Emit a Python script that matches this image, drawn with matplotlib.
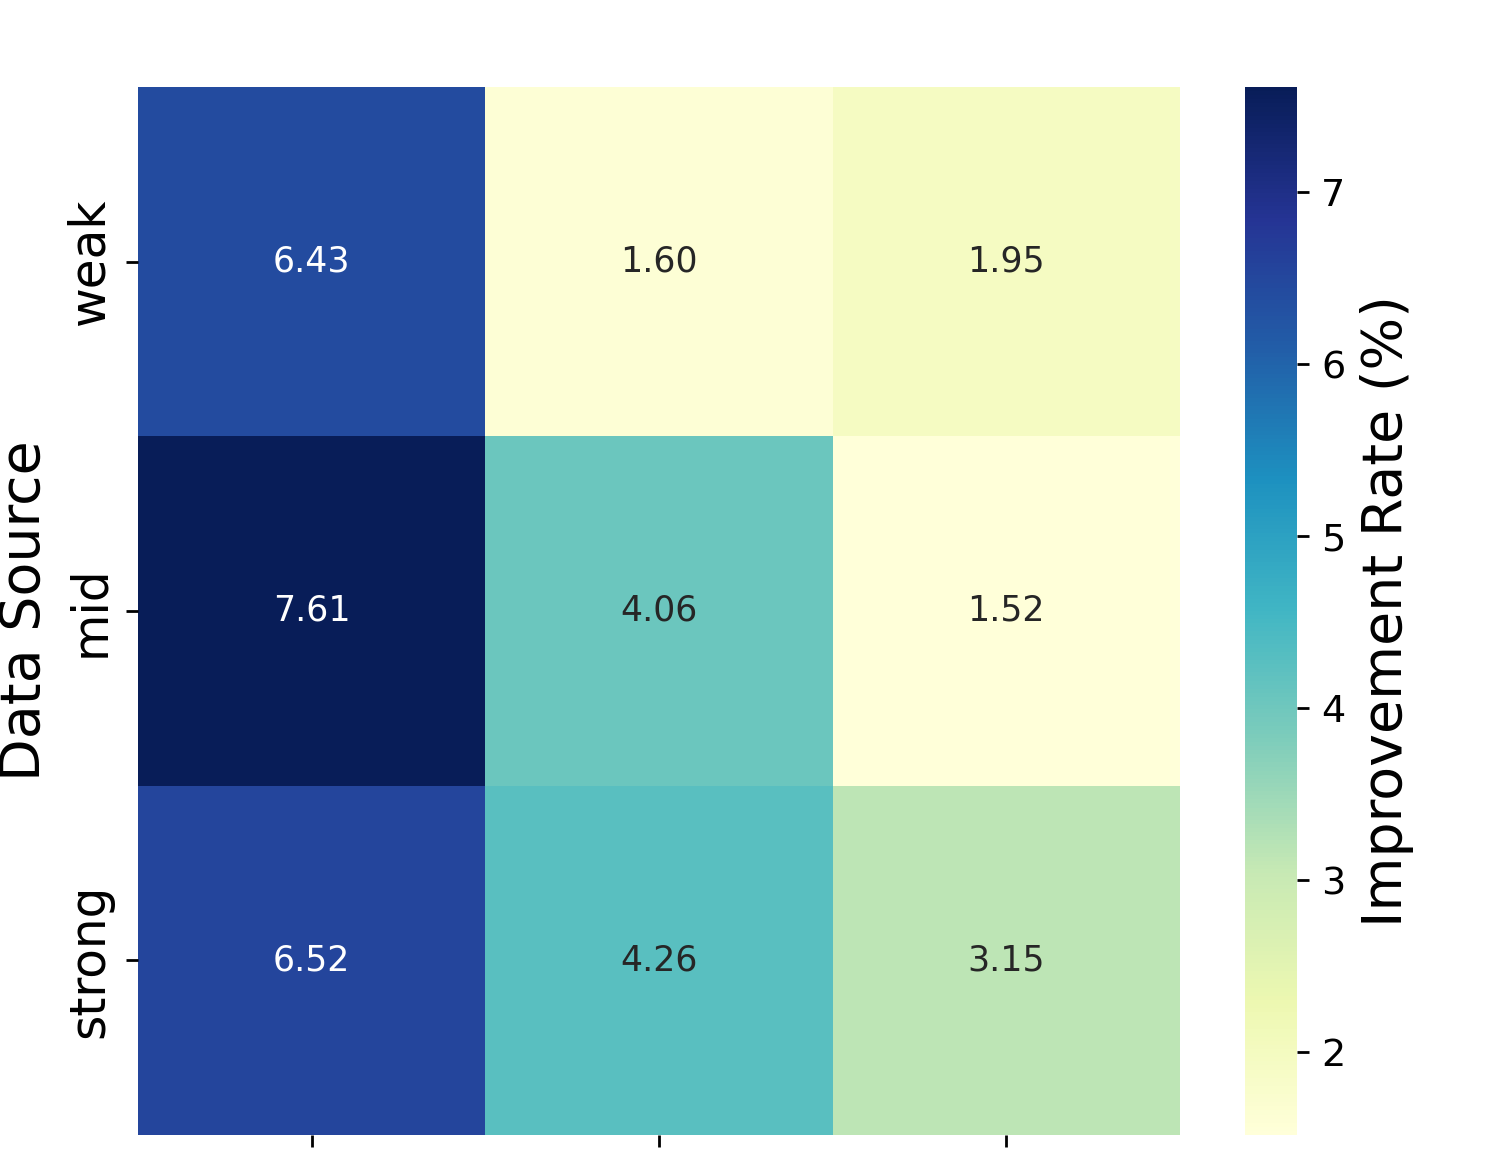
import numpy as np
import pandas as pd
import matplotlib
matplotlib.use('Agg')
import matplotlib.pyplot as plt
import seaborn as sns

# values
rows = ['weak', 'mid', 'strong']
cols = ['', '', '']
col_a = [6.43, 7.61, 6.52]
col_b = [1.60, 4.06, 4.26]
col_c = [1.95, 1.52, 3.15]

data = pd.DataFrame({'a': col_a, 'b': col_b, 'c': col_c}, index=rows)

fig = plt.figure(figsize=(6.02, 4.62), dpi=250)
ax = fig.add_axes([0.0917, 0.0173, 0.6923, 0.9074])
cax = fig.add_axes([0.8272, 0.0173, 0.0346, 0.9074])

sns.heatmap(data, ax=ax, cbar_ax=cax, cmap='YlGnBu', annot=True, fmt='.2f',
            annot_kws={'size': 10})

ax.set_xticklabels(cols)
ax.set_yticklabels(rows, rotation=90, va='center', fontsize=14)
ax.set_ylabel('Data Source', fontsize=16)
ax.set_xlabel('')

cax.tick_params(labelsize=11)
cax.set_ylabel('Improvement Rate (%)', fontsize=16)

fig.savefig('out.png', dpi=250)
